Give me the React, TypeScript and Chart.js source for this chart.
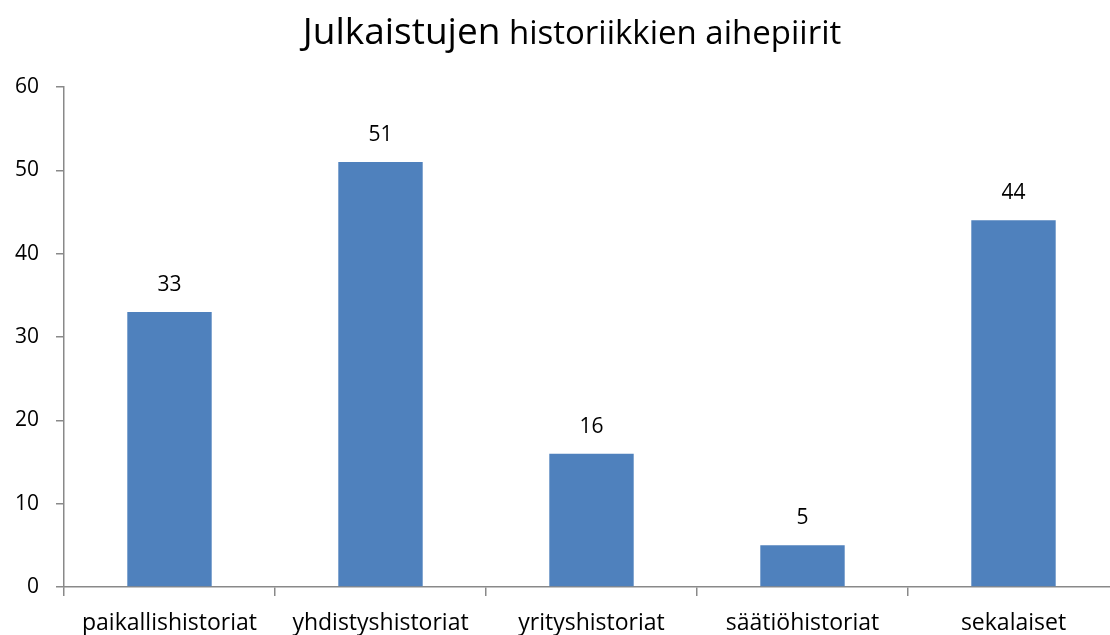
import React, { useEffect, useRef } from "react";
import { Chart, registerables } from "chart.js";

Chart.register(...registerables);

const categories = ["paikallishistoriat", "yhdistyshistoriat", "yrityshistoriat", "säätiöhistoriat", "sekalaiset"];
const values = [33, 51, 16, 5, 44];
const titleMain = "Julkaistujen";
const titleRest = " historiikkien aihepiirit";

const FONT = "'Open Sans', Lato, sans-serif";
const AXIS = "#898989";

const titlePlugin = {
  id: "mixedTitle",
  afterDraw(chart: any) {
    const ctx = chart.ctx;
    ctx.save();
    ctx.fillStyle = "#000";
    ctx.textBaseline = "alphabetic";
    ctx.textAlign = "left";
    ctx.font = `37px ${FONT}`;
    const w1 = ctx.measureText(titleMain).width;
    ctx.font = `33px ${FONT}`;
    const w2 = ctx.measureText(titleRest).width;
    const cx = 572;
    const x0 = cx - (w1 + w2) / 2;
    const y = 44;
    ctx.font = `37px ${FONT}`;
    ctx.fillText(titleMain, x0, y);
    ctx.font = `33px ${FONT}`;
    ctx.fillText(titleRest, x0 + w1, y);
    ctx.restore();
  },
};

const labelPlugin = {
  id: "valueLabels",
  afterDatasetsDraw(chart: any) {
    const ctx = chart.ctx;
    ctx.save();
    ctx.fillStyle = "#000";
    ctx.font = `21px ${FONT}`;
    ctx.textAlign = "center";
    ctx.textBaseline = "middle";
    chart.data.datasets.forEach((ds: any, i: number) => {
      const meta = chart.getDatasetMeta(i);
      meta.data.forEach((el: any, j: number) => {
        ctx.fillText(String(ds.data[j]), el.x, el.y - 27);
      });
    });
    ctx.restore();
  },
};

export default function App() {
  const ref = useRef<HTMLCanvasElement | null>(null);
  useEffect(() => {
    if (!ref.current) return;
    const chart = new Chart(ref.current, {
      type: "bar",
      data: {
        labels: categories,
        datasets: [
          {
            data: values,
            backgroundColor: "#4f81bd",
            categoryPercentage: 1,
            barPercentage: 0.4,
          },
        ],
      },
      options: {
        animation: false,
        responsive: false,
        devicePixelRatio: 1,
        layout: { padding: { top: 87, right: 1, left: 2, bottom: 0 } },
        plugins: { legend: { display: false }, title: { display: false }, tooltip: { enabled: false } },
        scales: {
          x: {
            grid: { offset: true, drawOnChartArea: false, drawTicks: true, tickLength: 9, color: AXIS, lineWidth: 1.5 },
            border: { color: AXIS, width: 1.5 },
            ticks: { color: "#000", font: { family: FONT, size: 23 }, padding: 14, maxRotation: 0 },
            afterFit: (s: any) => { s.height = 48; },
          },
          y: {
            min: 0,
            max: 60,
            ticks: { stepSize: 10, color: "#000", font: { family: FONT, size: 21 }, padding: 17 },
            grid: { drawOnChartArea: false, drawTicks: true, tickLength: 8, color: AXIS, lineWidth: 1.5 },
            border: { color: AXIS, width: 1.5 },
            afterFit: (s: any) => { s.width = 62; },
          },
        },
      },
      plugins: [titlePlugin, labelPlugin],
    });
    return () => chart.destroy();
  }, []);
  return (
    <div style={{ position: "fixed", left: 0, top: 0, width: 1110, height: 635, overflow: "hidden", background: "#fff" }}>
      <canvas ref={ref} width={1120} height={635} style={{ width: 1120, height: 635, display: "block" }} />
    </div>
  );
}
